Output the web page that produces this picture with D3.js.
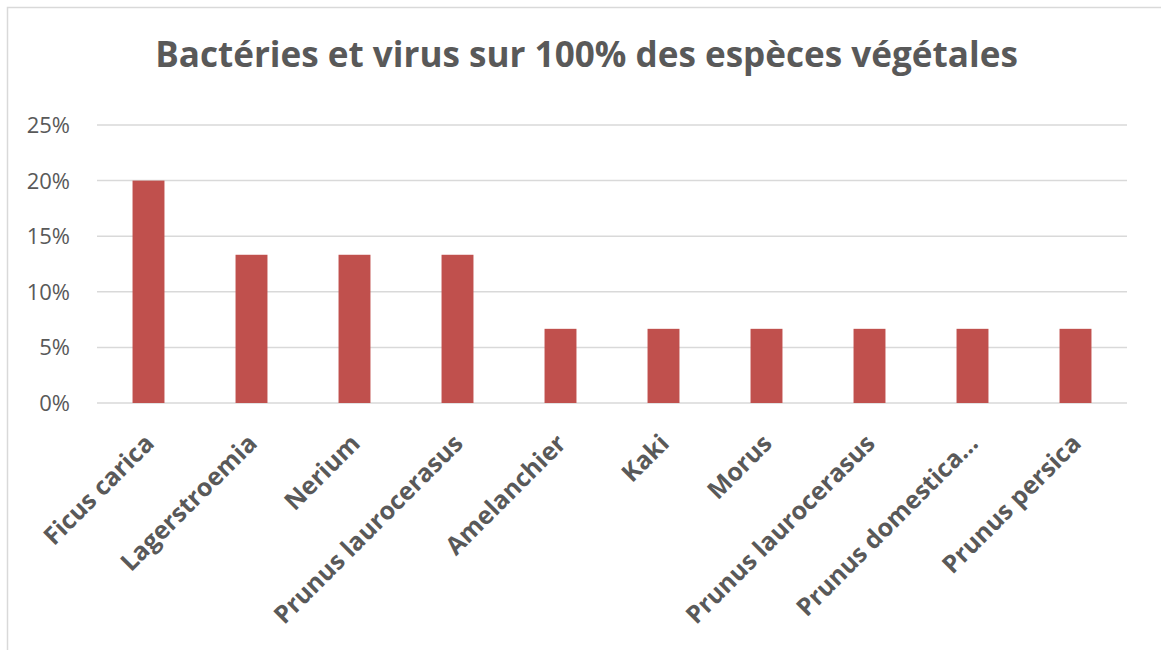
<!DOCTYPE html>
<html>
<head>
<meta charset="utf-8">
<script src="https://d3js.org/d3.v7.min.js"></script>
<style>
body { margin: 0; background: #fff; }
svg text { font-family: "Open Sans", "Noto Sans", sans-serif; fill: #595959; }
</style>
</head>
<body>
<svg id="chart" width="1161" height="650"></svg>
<script>
// data
var categories = ["Ficus carica", "Lagerstroemia", "Nerium", "Prunus laurocerasus", "Amelanchier",
                  "Kaki", "Morus", "Prunus laurocerasus", "Prunus domestica\u2026", "Prunus persica"];
var values = [0.20, 0.1333, 0.1333, 0.1333, 0.0667, 0.0667, 0.0667, 0.0667, 0.0667, 0.0667];
var yTicks = [0, 0.05, 0.10, 0.15, 0.20, 0.25];
var title = "Bactéries et virus sur 100% des espèces végétales";

var svg = d3.select("#chart");
// note: "top" is taken by window.top, so plot edges get their own names
var plotLeft = 97, plotRight = 1127, plotTop = 125, plotBottom = 403;

// chart frame (cut off on the right and bottom, like the screenshot)
svg.append("rect")
  .attr("x", 7.5).attr("y", 7.5)
  .attr("width", 1300).attr("height", 800)
  .attr("fill", "none").attr("stroke", "#d9d9d9").attr("stroke-width", 1.5);

// index based band so duplicate names keep their own slot
var x = d3.scaleBand()
  .domain(d3.range(categories.length))
  .range([plotLeft, plotRight])
  .paddingInner(0.69)
  .paddingOuter(0.345);

var y = d3.scaleLinear().domain([0, 0.25]).range([plotBottom, plotTop]);

// gridlines
svg.append("g")
  .selectAll("line")
  .data(yTicks)
  .enter().append("line")
    .attr("x1", plotLeft).attr("x2", plotRight)
    .attr("y1", function(d) { return y(d); })
    .attr("y2", function(d) { return y(d); })
    .attr("stroke", "#d9d9d9").attr("stroke-width", 1.5);

// y labels
svg.append("g")
  .selectAll("text")
  .data(yTicks)
  .enter().append("text")
    .attr("x", 70)
    .attr("y", function(d) { return y(d); })
    .attr("dy", "0.36em")
    .attr("text-anchor", "end")
    .style("font-size", "22px")
    .text(d3.format(".0%"));

// bars
svg.append("g")
  .selectAll("rect")
  .data(values)
  .enter().append("rect")
    .attr("x", function(d, i) { return x(i); })
    .attr("width", x.bandwidth())
    .attr("y", function(d) { return y(d); })
    .attr("height", function(d) { return y(0) - y(d); })
    .attr("fill", "#c0504d");

// category labels, rotated -45
var labels = svg.append("g")
  .selectAll("text")
  .data(categories)
  .enter().append("text")
    .attr("text-anchor", "end")
    .style("font-weight", "bold")
    .style("font-size", "20px")
    .attr("transform", function(d, i) {
      var cx = x(i) + x.bandwidth() / 2 + 7;
      return "translate(" + cx + "," + (plotBottom + 42) + ") rotate(-45)";
    })
    .text(function(d) { return d; });

// fit label size so "Prunus laurocerasus" is about 255px long
var w = labels.filter(function(d, i) { return i === 3; }).node().getComputedTextLength();
labels.style("font-size", (20 * 255 / w) + "px");

// title
var t = svg.append("text")
  .attr("x", 586.5).attr("y", 67)
  .attr("text-anchor", "middle")
  .style("font-weight", "bold")
  .style("font-size", "36px")
  .text(title);
var tw = t.node().getComputedTextLength();
t.style("font-size", (36 * 863 / tw) + "px");
</script>
</body>
</html>
